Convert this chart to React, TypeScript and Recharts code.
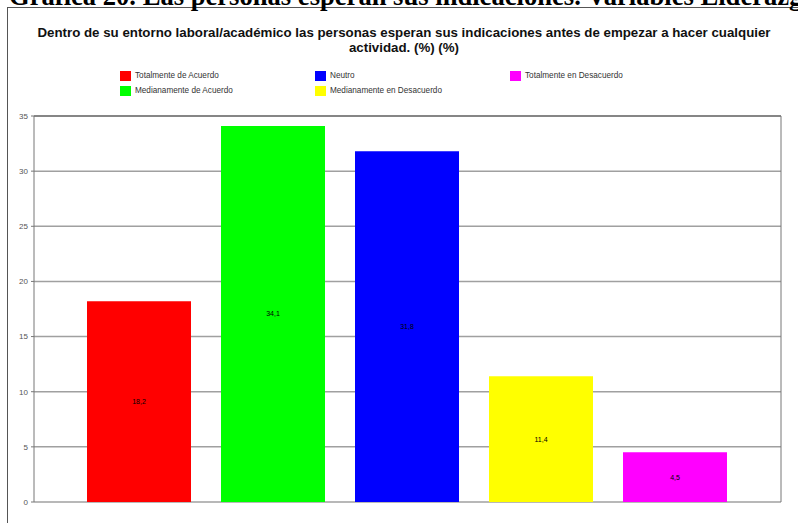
import React from "react";
import {
  BarChart,
  Bar,
  XAxis,
  YAxis,
  CartesianGrid,
  Legend,
  LabelList,
  ReferenceLine,
} from "recharts";

const seriesNames = [
  "Totalmente de Acuerdo",
  "Medianamente de Acuerdo",
  "Neutro",
  "Medianamente en Desacuerdo",
  "Totalmente en Desacuerdo",
];
const seriesValues = [18.2, 34.1, 31.8, 11.4, 4.5];
const seriesColors = ["#FF0000", "#00FF00", "#0000FF", "#FFFF00", "#FF00FF"];
const yTicks = [0, 5, 10, 15, 20, 25, 30, 35];

const heading =
  "Gráfica 20. Las personas esperan sus indicaciones. Variables Liderazgo";
const titleLines = [
  "Dentro de su entorno laboral/académico las personas esperan sus indicaciones antes de empezar a hacer cualquier",
  "actividad. (%) (%)",
];

const row: Record<string, number | string> = { name: "" };
seriesNames.forEach((n, i) => {
  row["s" + i] = seriesValues[i];
});
const data = [row];

const fmt = (v: any) => String(v).replace(".", ",");

const LegendBox = () => (
  <div
    style={{
      display: "grid",
      gridTemplateColumns: "195px 195px 195px",
      gridTemplateRows: "15px 15px",
      gridAutoFlow: "column",
      marginLeft: 120,
      fontFamily: "Arial, 'Liberation Sans', sans-serif",
      fontSize: 8.2,
      color: "#333",
    }}
  >
    {seriesNames.map((n, i) => (
      <div key={n} style={{ display: "flex", alignItems: "center", height: 15 }}>
        <span
          style={{
            display: "inline-block",
            width: 11,
            height: 10,
            background: seriesColors[i],
            marginRight: 4,
          }}
        />
        {n}
      </div>
    ))}
  </div>
);

export default function App() {
  return (
    <div
      style={{
        position: "absolute",
        left: 0,
        top: 0,
        width: 798,
        height: 523,
        overflow: "hidden",
        background: "#fff",
      }}
    >
      <div
        style={{
          position: "absolute",
          left: 7,
          top: 7,
          width: 820,
          height: 540,
          borderLeft: "1px solid #555",
          borderTop: "1px solid #555",
        }}
      />
      <svg
        width={798}
        height={30}
        style={{ position: "absolute", left: 0, top: 0 }}
      >
        <text
          x={9}
          y={5}
          fontFamily="'Liberation Serif', 'Times New Roman', serif"
          fontWeight="bold"
          fontSize={26.6}
          fill="#000"
        >
          {heading}
        </text>
      </svg>
      <div
        style={{
          position: "absolute",
          left: 0,
          top: 25,
          width: 808,
          textAlign: "center",
          fontFamily: "Arial, 'Liberation Sans', sans-serif",
          fontWeight: "bold",
          fontSize: 13.3,
          lineHeight: "15px",
          color: "#111",
        }}
      >
        {titleLines.map((l) => (
          <div key={l}>{l}</div>
        ))}
      </div>
      <div style={{ position: "absolute", left: 0, top: 0 }}>
        <BarChart
          width={798}
          height={523}
          data={data}
          margin={{ top: 116, right: 0, bottom: 21, left: 0 }}
          barCategoryGap={53}
          barGap={30}
        >
          <CartesianGrid
            horizontal
            vertical={false}
            stroke="#a0a0a0"
            strokeWidth={1.5}
          />
          <XAxis dataKey="name" tick={false} tickLine={false} height={0} axisLine={{ stroke: "#666" }} />
          <YAxis
            domain={[0, 35]}
            ticks={yTicks}
            width={34}
            tickSize={3}
            tickMargin={3}
            interval={0}
            axisLine={{ stroke: "#777" }}
            tickLine={{ stroke: "#777" }}
            tick={{ fontSize: 8, fill: "#555", fontFamily: "Arial, 'Liberation Sans', sans-serif" }}
          />
          <YAxis
            yAxisId="right"
            orientation="right"
            domain={[0, 35]}
            ticks={yTicks}
            width={17}
            tickSize={3}
            tickMargin={3}
            interval={0}
            axisLine={{ stroke: "#777" }}
            tickLine={{ stroke: "#777" }}
            tick={{ fontSize: 8, fill: "#555", fontFamily: "Arial, 'Liberation Sans', sans-serif" }}
          />
          <ReferenceLine y={35} stroke="#555" />
          <Legend
            verticalAlign="middle"
            content={() => <LegendBox />}
            wrapperStyle={{ top: 68, left: 0, width: 798 }}
          />
          {seriesNames.map((n, i) => (
            <Bar
              key={n}
              dataKey={"s" + i}
              name={n}
              fill={seriesColors[i]}
              isAnimationActive={false}
            >
              <LabelList
                dataKey={"s" + i}
                position="center"
                formatter={fmt}
                fontSize={7}
                fill="#000"
                fontFamily="Arial, 'Liberation Sans', sans-serif"
              />
            </Bar>
          ))}
        </BarChart>
      </div>
    </div>
  );
}
